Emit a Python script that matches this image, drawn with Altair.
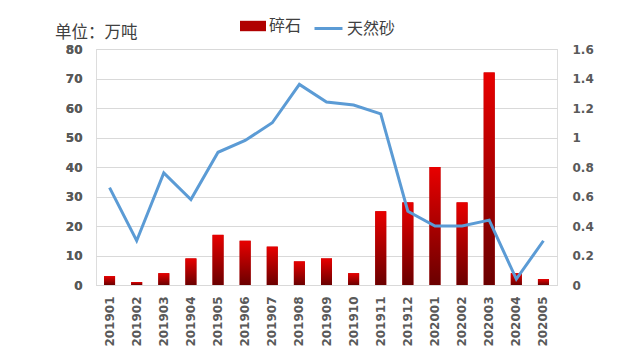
import altair as alt
import pandas as pd

months = ["201901", "201902", "201903", "201904", "201905", "201906", "201907",
          "201908", "201909", "201910", "201911", "201912", "202001", "202002",
          "202003", "202004", "202005"]
gravel = [3, 1, 4, 9, 17, 15, 13, 8, 9, 4, 25, 28, 40, 28, 72, 4, 2]
sand = [0.66, 0.30, 0.76, 0.58, 0.90, 0.98, 1.10, 1.36, 1.24, 1.22, 1.16,
        0.50, 0.40, 0.40, 0.44, 0.04, 0.30]
left_ticks = [0, 10, 20, 30, 40, 50, 60, 70, 80]
right_ticks = [0, 0.2, 0.4, 0.6, 0.8, 1.0, 1.2, 1.4, 1.6]
series_names = ["碎石", "天然砂"]

df = pd.DataFrame({"month": months, "gravel": gravel, "sand": sand,
                   "gname": series_names[0], "sname": series_names[1]})

LABEL_FONT = "DejaVu Sans"
LABEL_COLOR = "#595959"
LABEL_SIZE = 12

x = alt.X(
    "month:O", sort=None,
    scale=alt.Scale(paddingInner=0, paddingOuter=0),
    axis=alt.Axis(title=None, labelAngle=270, labelPadding=11, ticks=False,
                  domainColor="#d9d9d9", labelFont=LABEL_FONT, labelFontSize=LABEL_SIZE,
                  labelFontWeight="bold", labelColor=LABEL_COLOR, labelBaseline="middle",
                  labelAlign="right"),
)

y_left = alt.Y(
    "gravel:Q", scale=alt.Scale(domain=[0, 80], nice=False),
    axis=alt.Axis(title=None, orient="left", values=left_ticks, ticks=False, domain=False,
                  grid=True, gridColor="#d9d9d9", labelPadding=14, labelFont=LABEL_FONT,
                  labelFontSize=LABEL_SIZE, labelFontWeight="bold", labelColor=LABEL_COLOR),
)

grad = alt.Gradient(
    gradient="linear",
    stops=[alt.GradientStop(color="#e80000", offset=0),
           alt.GradientStop(color="#6a0000", offset=1)],
    x1=0, x2=0, y1=0, y2=1,
)

legend_common = dict(title=None, orient="none", direction="horizontal",
                     labelFont="Noto Sans CJK SC", labelFontSize=16, labelColor="#404040",
                     labelOffset=3)

bars_legend = alt.Chart(df).mark_bar(size=11).encode(
    x=x, y=y_left,
    fill=alt.Fill("gname:N", scale=alt.Scale(range=["#b00000"]),
                  legend=alt.Legend(symbolType="M-1,-0.4H1V0.4H-1Z", symbolSize=676,
                                    symbolStrokeWidth=0, legendX=144, legendY=-36,
                                    **legend_common)),
)

bars = alt.Chart(df).mark_bar(size=11, fill=grad).encode(x=x, y=y_left)

line = alt.Chart(df).mark_line(strokeWidth=3).encode(
    x=x,
    y=alt.Y("sand:Q", scale=alt.Scale(domain=[0, 1.6], nice=False),
            axis=alt.Axis(title=None, orient="right", values=right_ticks, format="~g",
                          ticks=False, domain=False, grid=False, labelPadding=15,
                          labelFont=LABEL_FONT, labelFontSize=LABEL_SIZE, labelFontWeight="bold",
                          labelColor=LABEL_COLOR)),
    stroke=alt.Stroke("sname:N", scale=alt.Scale(range=["#5b9bd5"]),
                      legend=alt.Legend(symbolType="stroke", symbolSize=784,
                                        symbolStrokeWidth=3, legendX=217, legendY=-36,
                                        **legend_common)),
)

chart = alt.layer(bars_legend, bars, line).resolve_scale(y="independent").properties(
    width=461, height=236,
    title=alt.Title("单位：万吨", anchor="start", frame="group", dx=-41, dy=35, offset=7,
                    fontSize=16.5, font="Noto Sans CJK SC", fontWeight="normal",
                    color="#404040"),
    autosize=alt.AutoSizeParams(type="none"),
    padding={"left": 88, "top": 41, "right": 61, "bottom": 66},
).configure_view(stroke=None).configure(background="white")

chart.save("out.html", embed_options={"renderer": "svg", "actions": False})
